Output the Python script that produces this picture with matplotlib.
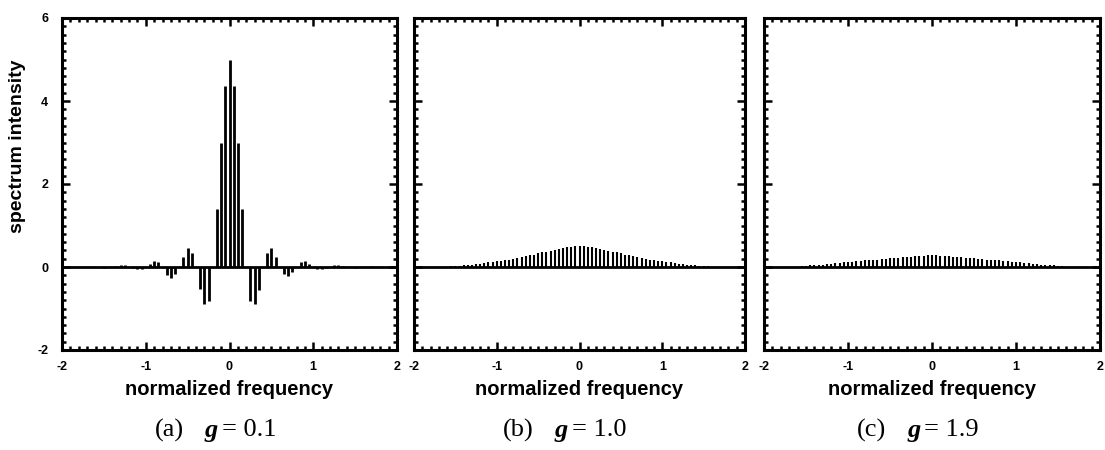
import numpy as np
import matplotlib.pyplot as plt
from matplotlib.ticker import MultipleLocator

# panel (a) g=0.1 : stem positions and heights
freq_a = [-1.55, -1.5, -1.45, -1.35, -1.3, -1.25, -1.15, -1.1, -1.05,
          -0.95, -0.9, -0.85, -0.75, -0.7, -0.65, -0.55, -0.5, -0.45,
          -0.35, -0.3, -0.25, -0.15, -0.1, -0.05, 0.0, 0.05, 0.1, 0.15,
          0.25, 0.3, 0.35, 0.45, 0.5, 0.55, 0.65, 0.7, 0.75,
          0.85, 0.9, 0.95, 1.05, 1.1, 1.15, 1.25, 1.3, 1.35,
          1.45, 1.5, 1.55, 1.65, 1.7, 1.75]
spec_a = [-0.01, -0.02, -0.01, 0.03, 0.05, 0.04, -0.03, -0.05, -0.04,
          0.08, 0.15, 0.12, -0.2, -0.26, -0.18, 0.24, 0.45, 0.34,
          -0.53, -0.9, -0.81, 1.4, 3.0, 4.35, 5.0, 4.35, 3.0, 1.4,
          -0.81, -0.9, -0.55, 0.34, 0.45, 0.25, -0.18, -0.22, -0.12,
          0.12, 0.15, 0.08, -0.04, -0.05, -0.03, 0.04, 0.05, 0.03,
          -0.01, -0.02, -0.01, 0.01, 0.02, 0.01]

# panels (b) and (c): stems every 0.05 from -1.55 to 1.55
freq_bc = np.round(np.linspace(-1.55, 1.55, 63), 2)
spec_b = [0.02, 0.03, 0.03, 0.04, 0.05, 0.06, 0.07, 0.08, 0.10, 0.11,
          0.12, 0.14, 0.15, 0.17, 0.18, 0.20, 0.22, 0.24, 0.26, 0.28,
          0.30, 0.33, 0.35, 0.37, 0.39, 0.41, 0.43, 0.45, 0.47, 0.48,
          0.50, 0.50,
          0.50, 0.48, 0.47, 0.45, 0.43, 0.41, 0.39, 0.37, 0.35, 0.33,
          0.30, 0.28, 0.26, 0.24, 0.22, 0.20, 0.18, 0.17, 0.15, 0.14,
          0.12, 0.11, 0.10, 0.08, 0.07, 0.06, 0.05, 0.04, 0.03, 0.03,
          0.02]
spec_c = [0.02, 0.03, 0.04, 0.05, 0.06, 0.06, 0.07, 0.08, 0.09, 0.10,
          0.11, 0.12, 0.13, 0.14, 0.15, 0.16, 0.17, 0.18, 0.18, 0.19,
          0.20, 0.21, 0.21, 0.22, 0.23, 0.24, 0.25, 0.26, 0.27, 0.27,
          0.28, 0.28,
          0.28, 0.27, 0.27, 0.26, 0.25, 0.24, 0.23, 0.22, 0.21, 0.21,
          0.20, 0.19, 0.18, 0.18, 0.17, 0.16, 0.15, 0.14, 0.13, 0.12,
          0.11, 0.10, 0.09, 0.08, 0.07, 0.06, 0.06, 0.05, 0.04, 0.03,
          0.02]

captions = ["(a)", "(b)", "(c)"]
g_values = ["0.1", "1.0", "1.9"]

x_ticks = [-2, -1, 0, 1, 2]
y_ticks = [-2, 0, 2, 4, 6]

SANS = "Liberation Sans"
SERIF = "Liberation Serif"

fig = plt.figure(figsize=(11.05, 4.5), dpi=100)

# axes boxes (left, bottom, width, height) in figure fraction
boxes = [
    [62 / 1105, 100 / 450, 335 / 1105, 332 / 450],
    [414 / 1105, 100 / 450, 331 / 1105, 332 / 450],
    [764 / 1105, 100 / 450, 336 / 1105, 332 / 450],
]

datos = [(freq_a, spec_a, 2.0), (freq_bc, spec_b, 1.5), (freq_bc, spec_c, 1.5)]

for i, box in enumerate(boxes):
    ax = fig.add_axes(box)
    xs, ys, lw = datos[i]
    ax.vlines(xs, 0, ys, color="black", linewidth=lw)
    ax.axhline(0, color="black", linewidth=2.0)

    ax.set_xlim(-2, 2)
    ax.set_ylim(-2, 6)
    ax.xaxis.set_major_locator(MultipleLocator(1))
    ax.xaxis.set_minor_locator(MultipleLocator(0.1))
    ax.yaxis.set_major_locator(MultipleLocator(2))
    ax.yaxis.set_minor_locator(MultipleLocator(0.2))
    ax.tick_params(which="both", direction="in", top=True, right=True,
                   width=1.8, color="black")
    ax.tick_params(which="major", length=6)
    ax.tick_params(which="minor", length=3)
    for sp in ax.spines.values():
        sp.set_linewidth(2.2)

    ax.set_xticks(x_ticks)
    ax.set_xticklabels([str(t) for t in x_ticks], fontsize=9,
                       fontweight="bold", family=SANS)
    ax.tick_params(axis="x", pad=8)
    if i == 0:
        ax.set_yticks(y_ticks)
        ax.set_yticklabels([str(t) for t in y_ticks], fontsize=9,
                           fontweight="bold", family=SANS)
        ax.tick_params(axis="y", pad=10)
        ax.set_ylabel("spectrum intensity", fontsize=14, fontweight="bold",
                      family=SANS)
        ax.yaxis.set_label_coords(-36.0 / 335, 0.614)
    else:
        ax.set_yticklabels([])

    ax.set_xlabel("normalized frequency", fontsize=14.5, fontweight="bold",
                  family=SANS, labelpad=5)

    # caption under each panel: "(a)  g = 0.1"
    w = box[2] * 1105.0
    yc = -80.0 / 332
    ax.text(0.5 - 46.0 / w, yc, captions[i], transform=ax.transAxes,
            ha="right", va="center", fontsize=19, family=SERIF)
    ax.text(0.5 - 25.0 / w, yc, "g", transform=ax.transAxes,
            ha="left", va="center", fontsize=19, family=SERIF,
            fontstyle="italic", fontweight="bold")
    ax.text(0.5 - 8.0 / w, yc, "= " + g_values[i], transform=ax.transAxes,
            ha="left", va="center", fontsize=19, family=SERIF)

fig.savefig("out.png", dpi=100)
